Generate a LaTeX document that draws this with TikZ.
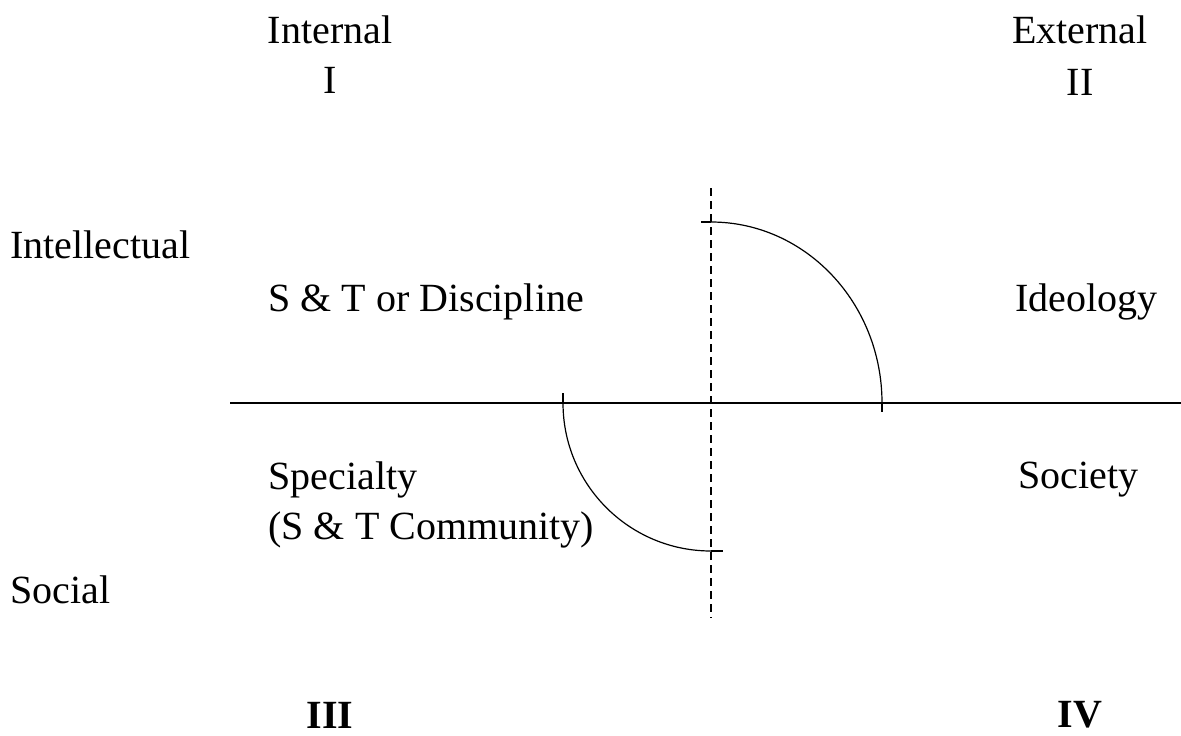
\documentclass[tikz,border=0pt]{standalone}
\usepackage{fontspec}
\setmainfont{Liberation Serif}
\usepackage{tikz}
\usetikzlibrary{positioning, calc}

\begin{document}
\begin{tikzpicture}[
  x=0.5pt, y=0.5pt,
  lbl/.style={font=\fontsize{20}{24}\selectfont, inner sep=0pt, anchor=west},
  head/.style={font=\fontsize{20}{24}\selectfont, inner sep=0pt},
  axis/.style={line width=0.7pt, color=black},
  dashaxis/.style={line width=0.6pt, dash pattern=on 4pt off 2.5pt, color=black},
  quad/.style={line width=0.6pt, color=black}
]
\useasboundingbox (0,0) rectangle (1181,735);

% Column headings
\node[head] (internal) at (330,705) {Internal};
\node[head] (rI) at (330,655) {I};
\node[head] (external) at (1080,705) {External};
\node[head] (rII) at (1080,653) {II};
\node[head, font=\fontsize{20}{24}\selectfont\bfseries] (rIII) at (330,20) {III};
\node[head, font=\fontsize{20}{24}\selectfont\bfseries] (rIV) at (1080,20) {IV};

% Row headings
\node[lbl] (intel) at (10,490) {Intellectual};
\node[lbl] (social) at (10,145) {Social};

% Quadrant texts
\node[lbl] (disc) at (268,433) {S \& T or Discipline};
\node[lbl] (ideo) at (1015,433) {Ideology};
\node[lbl] (spec) at (268,255) {Specialty};
\node[lbl] (comm) at (268,205) {(S \& T Community)};
\node[lbl] (soc) at (1018,255) {Society};

% Axes
\coordinate (o) at (711,332);
\coordinate (hl) at (230,332);
\coordinate (hr) at (1181,332);
\coordinate (vt) at (711,547);
\coordinate (vb) at (711,117);
\draw[axis] (hl) -- (hr);
\draw[dashaxis] (vt) -- (vb);

% Upper arc
\coordinate (ua) at (711,513);
\coordinate (ue) at (882,332);
\draw[quad] (ua) arc[start angle=90, end angle=0, x radius=171, y radius=181];
\draw[quad] (ua) -- ++(-10,0);
\draw[quad] (ue) -- ++(0,-9);

% Lower arc
\coordinate (la) at (563,332);
\coordinate (le) at (711,184);
\draw[quad] (la) arc[start angle=180, end angle=270, radius=148];
\draw[quad] (la) -- ++(0,10);
\draw[quad] (le) -- ++(12,0);

\end{tikzpicture}
\end{document}
